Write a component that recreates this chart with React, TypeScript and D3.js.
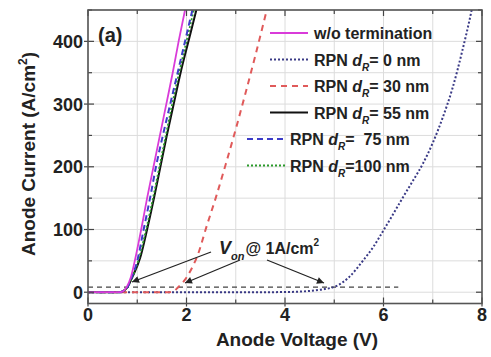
import React from "react";
import * as d3 from "d3";

const W = 491;
const H = 357;

const xTicks = [0, 2, 4, 6, 8];
const yTicks = [0, 100, 200, 300, 400];

const woV = [0, 0.65, 0.72, 0.79, 0.87, 0.95, 1.08, 1.2, 1.33, 1.46, 1.59, 1.72, 1.84, 1.97, 2.04];
const woJ = [0, 0, 2, 9, 24, 50, 100, 150, 200, 250, 300, 350, 400, 450, 475];

const rpn0V = [0, 3.5, 4.0, 4.5, 4.8, 5.05, 5.3, 5.58, 5.8, 6.01, 6.2, 6.4, 6.6, 6.8, 7.0, 7.2, 7.4, 7.6, 7.79, 7.86];
const rpn0J = [0, 0, 0.3, 2, 5, 10, 24, 50, 73, 100, 125, 152, 178, 205, 238, 278, 325, 385, 450, 478];

const rpn30V = [0, 1.65, 1.75, 1.83, 1.97, 2.1, 2.24, 2.4, 2.6, 2.8, 3.0, 3.2, 3.4, 3.63, 3.7];
const rpn30J = [0, 0, 2, 8, 20, 37, 62, 103, 152, 205, 260, 318, 378, 450, 472];

const rpn55V = [0, 0.65, 0.72, 0.8, 0.9, 1.06, 1.2, 1.34, 1.47, 1.6, 1.74, 1.88, 2.04, 2.2, 2.27];
const rpn55J = [0, 0, 2, 8, 24, 55, 100, 150, 200, 250, 300, 350, 400, 450, 472];

const rpn75V = [0, 0.65, 0.72, 0.8, 0.9, 1.0, 1.13, 1.26, 1.38, 1.52, 1.67, 1.82, 1.97, 2.12, 2.19];
const rpn75J = [0, 0, 2, 8, 26, 50, 100, 150, 200, 250, 300, 350, 400, 450, 472];

const rpn100V = [0, 0.65, 0.72, 0.8, 0.9, 1.04, 1.18, 1.32, 1.45, 1.58, 1.71, 1.85, 2.0, 2.15, 2.22];
const rpn100J = [0, 0, 2, 8, 24, 55, 100, 150, 200, 250, 300, 350, 400, 450, 472];

const vonV = [0, 6.3];
const vonJ = [8, 8];

const seriesNames = ["w/o termination", "0 nm", "30 nm", "55 nm", "75 nm", "100 nm"];

const m = { left: 88, right: 482, top: 10, bottom: 303.5 };
const FONT = "'Liberation Sans', Arial, sans-serif";

export default function App() {
  const x = d3.scaleLinear().domain([0, 8]).range([m.left, m.right]);
  const y = d3.scaleLinear().domain([-18, 450]).range([m.bottom, m.top]);

  const mk = (V: number[], J: number[]) =>
    d3
      .line<number>()
      .x((_, i) => x(V[i]))
      .y((_, i) => y(J[i]))
      .curve(d3.curveMonotoneX)(V) || "";

  const series = [
    { name: seriesNames[1], V: rpn0V, J: rpn0J, color: "#3a3a86", dash: "2,2", w: 2 },
    { name: seriesNames[2], V: rpn30V, J: rpn30J, color: "#e05a5a", dash: "6,5", w: 2 },
    { name: seriesNames[3], V: rpn55V, J: rpn55J, color: "#111111", dash: "", w: 2 },
    { name: seriesNames[5], V: rpn100V, J: rpn100J, color: "#2a9a2a", dash: "2,2", w: 1.8 },
    { name: seriesNames[4], V: rpn75V, J: rpn75J, color: "#3c3cc8", dash: "6,4", w: 2 },
    { name: seriesNames[0], V: woV, J: woJ, color: "#d93bd9", dash: "", w: 1.8 },
  ];

  const xGrid = d3.range(0, 8.01, 1);
  const yGrid = d3.range(0, 451, 50);

  const legend = [
    { color: "#d93bd9", dash: "", x0: 270, x1: 308, tx: 314, kind: "wo", val: "" },
    { color: "#3a3a86", dash: "2,2", x0: 270, x1: 308, tx: 314, kind: "rpn", val: " 0 nm" },
    { color: "#e05a5a", dash: "6,5", x0: 270, x1: 308, tx: 314, kind: "rpn", val: " 30 nm" },
    { color: "#111111", dash: "", x0: 270, x1: 308, tx: 314, kind: "rpn", val: " 55 nm" },
    { color: "#3c3cc8", dash: "6,4", x0: 247, x1: 285, tx: 290, kind: "rpn", val: "  75 nm" },
    { color: "#2a9a2a", dash: "2,2", x0: 247, x1: 285, tx: 290, kind: "rpn", val: "100 nm" },
  ];

  const arrows = [
    [211, 252, 132, 282],
    [240, 260, 185, 283],
    [267, 260, 324, 283],
  ];

  return (
    <svg
      width={W}
      height={H}
      style={{ position: "absolute", left: 0, top: 0, background: "#fff" }}
      fontFamily={FONT}
    >
      <defs>
        <clipPath id="plot">
          <rect x={m.left} y={m.top} width={m.right - m.left} height={m.bottom - m.top} />
        </clipPath>
        <marker id="ah" viewBox="0 0 10 10" refX="10" refY="5" markerWidth="9" markerHeight="7" orient="auto" markerUnits="userSpaceOnUse">
          <path d="M0,0 L10,5 L0,10 z" fill="#222" />
        </marker>
      </defs>
      <rect x={m.left} y={m.top} width={m.right - m.left} height={m.bottom - m.top} fill="#fff" />
      {xGrid.map((v) => (
        <line key={"gx" + v} x1={x(v)} x2={x(v)} y1={m.top} y2={m.bottom} stroke="#dcdcdc" strokeWidth={1} />
      ))}
      {yGrid.map((v) => (
        <line key={"gy" + v} x1={m.left} x2={m.right} y1={y(v)} y2={y(v)} stroke="#dcdcdc" strokeWidth={1} />
      ))}
      <g clipPath="url(#plot)">
        <path d={mk(vonV, vonJ)} fill="none" stroke="#444" strokeWidth={1.3} strokeDasharray="5,4" />
        {series.map((s) => (
          <path key={s.name} d={mk(s.V, s.J)} fill="none" stroke={s.color} strokeWidth={s.w} strokeDasharray={s.dash || undefined} />
        ))}
      </g>
      {xGrid.map((v) => {
        const major = v % 2 === 0;
        return (
          <g key={"tx" + v}>
            <line x1={x(v)} x2={x(v)} y1={m.bottom + (major ? 3 : 0)} y2={m.bottom - (major ? 6 : 4)} stroke="#444" strokeWidth={1.2} />
            <line x1={x(v)} x2={x(v)} y1={m.top} y2={m.top + (major ? 6 : 4)} stroke="#444" strokeWidth={1.2} />
          </g>
        );
      })}
      {yGrid.map((v) => {
        const major = v % 100 === 0;
        return (
          <g key={"ty" + v}>
            <line x1={m.left - (major ? 4 : 0)} x2={m.left + (major ? 6 : 4)} y1={y(v)} y2={y(v)} stroke="#444" strokeWidth={1.2} />
            <line x1={m.right} x2={m.right - (major ? 6 : 4)} y1={y(v)} y2={y(v)} stroke="#444" strokeWidth={1.2} />
          </g>
        );
      })}
      <rect x={m.left} y={m.top} width={m.right - m.left} height={m.bottom - m.top} fill="none" stroke="#555" strokeWidth={1.6} />
      {xTicks.map((v) => (
        <text key={"lx" + v} x={x(v)} y={321} textAnchor="middle" fontSize={18} fontWeight="bold" fill="#222">
          {v}
        </text>
      ))}
      {yTicks.map((v) => (
        <text key={"ly" + v} x={83} y={y(v) + 6.5} textAnchor="end" fontSize={18} fontWeight="bold" fill="#222">
          {v}
        </text>
      ))}
      <text x={297} y={346} textAnchor="middle" fontSize={19} fontWeight="bold" fill="#222">
        Anode Voltage (V)
      </text>
      <text transform="translate(35,154) rotate(-90)" textAnchor="middle" fontSize={19} fontWeight="bold" fill="#222">
        Anode Current (A/cm<tspan fontSize={12} dy={-8}>2</tspan>
        <tspan dy={8}>)</tspan>
      </text>
      <text x={98} y={42} fontSize={20} fontWeight="bold" fill="#222">
        (a)
      </text>
      {legend.map((l, i) => {
        const ly = 39 + 26.5 * i;
        return (
          <g key={"lg" + i}>
            <line x1={l.x0} x2={l.x1} y1={ly - 6} y2={ly - 6} stroke={l.color} strokeWidth={2} strokeDasharray={l.dash || undefined} />
            {l.kind === "wo" ? (
              <text x={l.tx} y={ly} fontSize={16} fontWeight="bold" fill="#222">
                {seriesNames[0]}
              </text>
            ) : (
              <text x={l.tx} y={ly} fontSize={16} fontWeight="bold" fill="#222" style={{ whiteSpace: "pre" }}>
                {"RPN "}
                <tspan fontStyle="italic">d</tspan>
                <tspan fontStyle="italic" fontSize={10} dy={5}>R</tspan>
                <tspan dy={-5}>{"=" + l.val}</tspan>
              </text>
            )}
          </g>
        );
      })}
      {arrows.map((a, i) => (
        <line key={"ar" + i} x1={a[0]} y1={a[1]} x2={a[2]} y2={a[3]} stroke="#222" strokeWidth={1.3} markerEnd="url(#ah)" />
      ))}
      <text x={219} y={254} fontWeight="bold" fill="#222" fontSize={16}>
        <tspan fontStyle="italic" fontSize={18}>V</tspan>
        <tspan fontStyle="italic" fontSize={11} dy={6}>on</tspan>
        <tspan dy={-6} dx={1}>@ 1A/cm</tspan>
        <tspan fontSize={10} dy={-8}>2</tspan>
      </text>
    </svg>
  );
}
